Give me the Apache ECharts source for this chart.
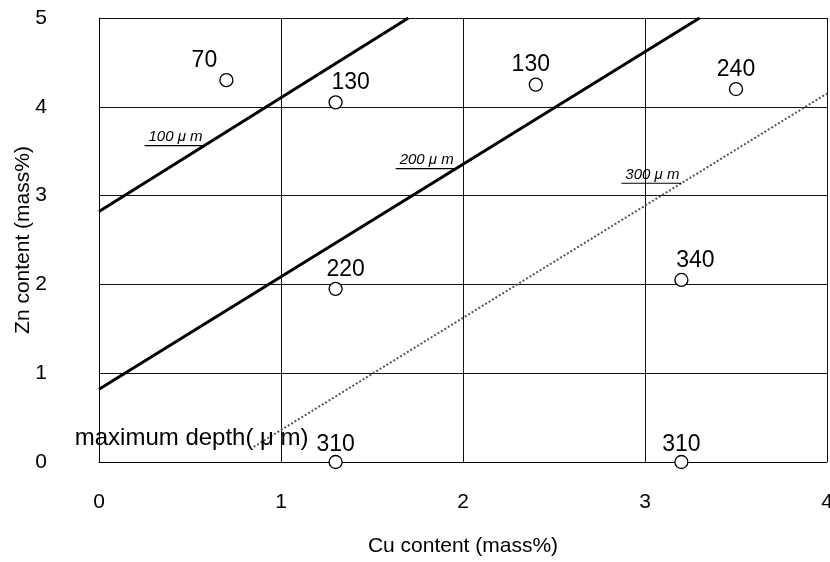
<!DOCTYPE html>
<html>
<head>
<meta charset="utf-8">
<script src="https://cdn.jsdelivr.net/npm/echarts@6/dist/echarts.min.js"></script>
<style>
	html, body { margin: 0; padding: 0; background: #fff; }
	#chart { width: 830px; height: 562px; }
</style>
</head>
<body>
<div id="chart"></div>
<script>
// measured points (Cu, Zn) and max depth
var cuValues = [0.7, 1.3, 2.4, 3.5, 1.3, 3.2, 1.3, 3.2];
var znValues = [4.3, 4.05, 4.25, 4.2, 1.95, 2.05, 0, 0];
var depthValues = [70, 130, 130, 240, 220, 340, 310, 310];

// iso-depth lines
var line100X = [0, 1.70];
var line100Y = [2.82, 5];
var line200X = [0, 3.3];
var line200Y = [0.82, 5];
var line300X = [0.85, 4];
var line300Y = [0.17, 4.15];
var lineNames = ['100 μ m', '200 μ m', '300 μ m'];
var lineLabelX = [0.58, 1.96, 3.2];

var xTicks = [0, 1, 2, 3, 4];
var yTicks = [0, 1, 2, 3, 4, 5];

// label nudges (pixels)
var labelShift = [[-22, 0], [15, 0], [-5, 0], [0, 0], [10, 0], [14, 0], [0, 2], [0, 2]];

var font = '"Liberation Sans", Arial, sans-serif';

function pairs(xs, ys) {
	var out = [];
	for (var i = 0; i < xs.length; i++) out.push([xs[i], ys[i]]);
	return out;
}

function lineAt(xs, ys, x) {
	return ys[0] + (ys[1] - ys[0]) * (x - xs[0]) / (xs[1] - xs[0]);
}

var pointData = [];
for (var i = 0; i < cuValues.length; i++) {
	pointData.push({
		value: [cuValues[i], znValues[i], depthValues[i]],
		label: { offset: labelShift[i] }
	});
}

var chart = echarts.init(document.getElementById('chart'));

var option = {
	animation: false,
	backgroundColor: '#fff',
	grid: { left: 99, right: 3, top: 18, bottom: 100, containLabel: false, outerBoundsMode: 'none' },
	xAxis: {
		type: 'value', min: 0, max: 4, interval: 1,
		name: 'Cu content (mass%)', nameLocation: 'middle', nameGap: 74, nameMoveOverlap: false,
		nameTextStyle: { fontFamily: font, fontSize: 21, color: '#000' },
		axisLine: { lineStyle: { color: '#000', width: 1 } },
		axisTick: { show: false },
		axisLabel: { margin: 30, fontFamily: font, fontSize: 21, color: '#000',
			formatter: function(v) { return xTicks.indexOf(v) >= 0 ? String(v) : ''; } },
		splitLine: { show: true, lineStyle: { color: '#111', width: 1 } }
	},
	yAxis: {
		type: 'value', min: 0, max: 5, interval: 1,
		name: 'Zn content (mass%)', nameLocation: 'middle', nameGap: 65, nameMoveOverlap: false,
		nameTextStyle: { fontFamily: font, fontSize: 21, color: '#000' },
		axisLine: { show: true, lineStyle: { color: '#000', width: 1 } },
		axisTick: { show: false },
		axisLabel: { margin: 52, fontFamily: font, fontSize: 21, color: '#000',
			formatter: function(v) { return yTicks.indexOf(v) >= 0 ? String(v) : ''; } },
		splitLine: { show: true, lineStyle: { color: '#111', width: 1 } }
	},
	series: [{
		type: 'line', data: pairs(line100X, line100Y), symbol: 'none',
		lineStyle: { color: '#000', width: 3 }, z: 3
	}, {
		type: 'line', data: pairs(line200X, line200Y), symbol: 'none',
		lineStyle: { color: '#000', width: 3 }, z: 3
	}, {
		type: 'line', data: pairs(line300X, line300Y), symbol: 'none',
		lineStyle: { color: '#555', width: 2, type: [2, 2] }, z: 3
	}, {
		type: 'scatter', data: pointData,
		symbol: 'circle', symbolSize: 13,
		itemStyle: { color: '#fff', borderColor: '#000', borderWidth: 1.3, opacity: 1 },
		label: {
			show: true, position: 'top', distance: 1,
			fontFamily: font, fontSize: 23, color: '#000', textBorderWidth: 0,
			formatter: function(p) { return p.value[2]; }
		},
		emphasis: { disabled: true },
		z: 5
	}]
};

chart.setOption(option);

// line tags with underline, and the depth caption
var lineSets = [[line100X, line100Y], [line200X, line200Y], [line300X, line300Y]];
var graphics = [];
for (var k = 0; k < lineSets.length; k++) {
	var lx = lineLabelX[k];
	var p = chart.convertToPixel({ gridIndex: 0 }, [lx, lineAt(lineSets[k][0], lineSets[k][1], lx)]);
	graphics.push({
		type: 'text', x: p[0] - 2, y: p[1] - 1,
		style: { text: lineNames[k], fontFamily: font, fontSize: 15, fontStyle: 'italic',
			fill: '#000', align: 'right', verticalAlign: 'bottom' },
		z: 10
	});
	graphics.push({
		type: 'line', shape: { x1: p[0] - 60, y1: p[1], x2: p[0], y2: p[1] },
		style: { stroke: '#000', lineWidth: 1.2 }, z: 10
	});
}
var cap = chart.convertToPixel({ gridIndex: 0 }, [cuValues[6], znValues[6]]);
graphics.push({
	type: 'text', x: cap[0] - 27, y: cap[1] - 24,
	style: { text: 'maximum depth( μ m)', fontFamily: font, fontSize: 24,
		fill: '#000', align: 'right', verticalAlign: 'middle' },
	z: 10
});
chart.setOption({ graphic: graphics });
</script>
</body>
</html>
